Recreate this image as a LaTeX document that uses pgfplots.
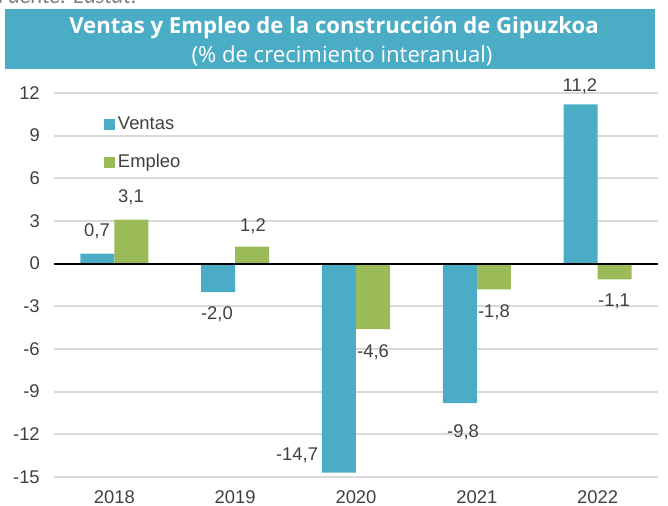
\documentclass[border=0pt]{standalone}
\usepackage{pgfplots}
\pgfplotsset{compat=1.18}
\usepackage{fontspec}
\setmainfont{Liberation Sans}
\newfontfamily\titlefont{Open Sans}
\newfontfamily\srcfont{Carlito}
\definecolor{ventas}{HTML}{4BACC6}
\definecolor{empleo}{HTML}{9BBB59}
\definecolor{titlebar}{HTML}{4BACC6}
\definecolor{txt}{HTML}{404040}
\definecolor{gridc}{HTML}{D9D9D9}
\begin{document}
\begin{tikzpicture}[x=0.75pt,y=0.75pt]
\useasboundingbox (0,0) rectangle (668,506);
% source line (clipped at the top)
\node[anchor=base west, inner sep=0pt, text=black!50, font=\srcfont\itshape\fontsize{17}{20}\selectfont] at (-2,506-3.5) {Fuente: Eustat.};
\fill[titlebar] (5,506-69) rectangle (655,506-9);
\node[anchor=base, inner sep=0pt, text=white, font=\titlefont\bfseries\fontsize{16.6}{19}\selectfont] at (334,506-34) {Ventas y Empleo de la construcción de Gipuzkoa};
\node[anchor=base, inner sep=0pt, text=white, font=\titlefont\fontsize{16.6}{19}\selectfont] at (342,506-62.5) {(\% de crecimiento interanual)};
\begin{axis}[
  at={(40.5pt,21.75pt)}, anchor=south west,
  scale only axis, width=453pt, height=288pt,
  xmin=-0.5, xmax=4.5, ymin=-15, ymax=12,
  clip=false,
  axis line style={draw=none},
  tick style={draw=none},
  ymajorgrids, grid style={gridc, line width=1.4pt},
  ytick={-15,-12,-9,-6,-3,0,3,6,9,12},
  yticklabels={-15,-12,-9,-6,-3,0,3,6,9,12},
  xtick={0,1,2,3,4},
  xticklabels={2018,2019,2020,2021,2022},
  yticklabel style={inner sep=0pt, anchor=east, xshift=-10.5pt, text=txt, font=\fontsize{13.8}{15}\selectfont},
  xticklabel style={inner sep=0pt, anchor=north, yshift=-5.5pt, text=txt, font=\fontsize{13.8}{15}\selectfont},
  ybar, bar width=25.5pt,
  legend style={draw=none, fill=none, at={(0.083,0.945)}, anchor=north west,
    font=\fontsize{13.8}{15}\selectfont, text=txt, inner sep=0pt, row sep=13pt,
    cells={anchor=west}},
  legend image code/.code={\fill[#1] (0pt,-4.1pt) rectangle (8.2pt,4.1pt);},
]
\addplot[fill=ventas, draw=none, bar shift=-12.75pt] coordinates {(0,0.7) (1,-2.0) (2,-14.7) (3,-9.8) (4,11.2)};
\addplot[fill=empleo, draw=none, bar shift=12.75pt] coordinates {(0,3.1) (1,1.2) (2,-4.6) (3,-1.8) (4,-1.1)};
\legend{Ventas,Empleo}
\draw[black, line width=1.5pt] (axis cs:-0.5,0) -- (axis cs:4.5,0);
\begin{scope}[every node/.style={text=txt, font=\fontsize{13.8}{15}\selectfont, inner sep=0pt}]
\node at (axis cs:-0.144,2.30) {0,7};
\node at (axis cs:0.137,4.69) {3,1};
\node at (axis cs:1.147,2.65) {1,2};
\node at (axis cs:0.849,-3.54) {-2,0};
\node at (axis cs:2.141,-6.21) {-4,6};
\node at (axis cs:1.512,-13.45) {-14,7};
\node at (axis cs:2.886,-11.83) {-9,8};
\node at (axis cs:3.142,-3.40) {-1,8};
\node at (axis cs:4.136,-2.62) {-1,1};
\node at (axis cs:3.854,12.5) {11,2};
\end{scope}
\end{axis}
\end{tikzpicture}
\end{document}
